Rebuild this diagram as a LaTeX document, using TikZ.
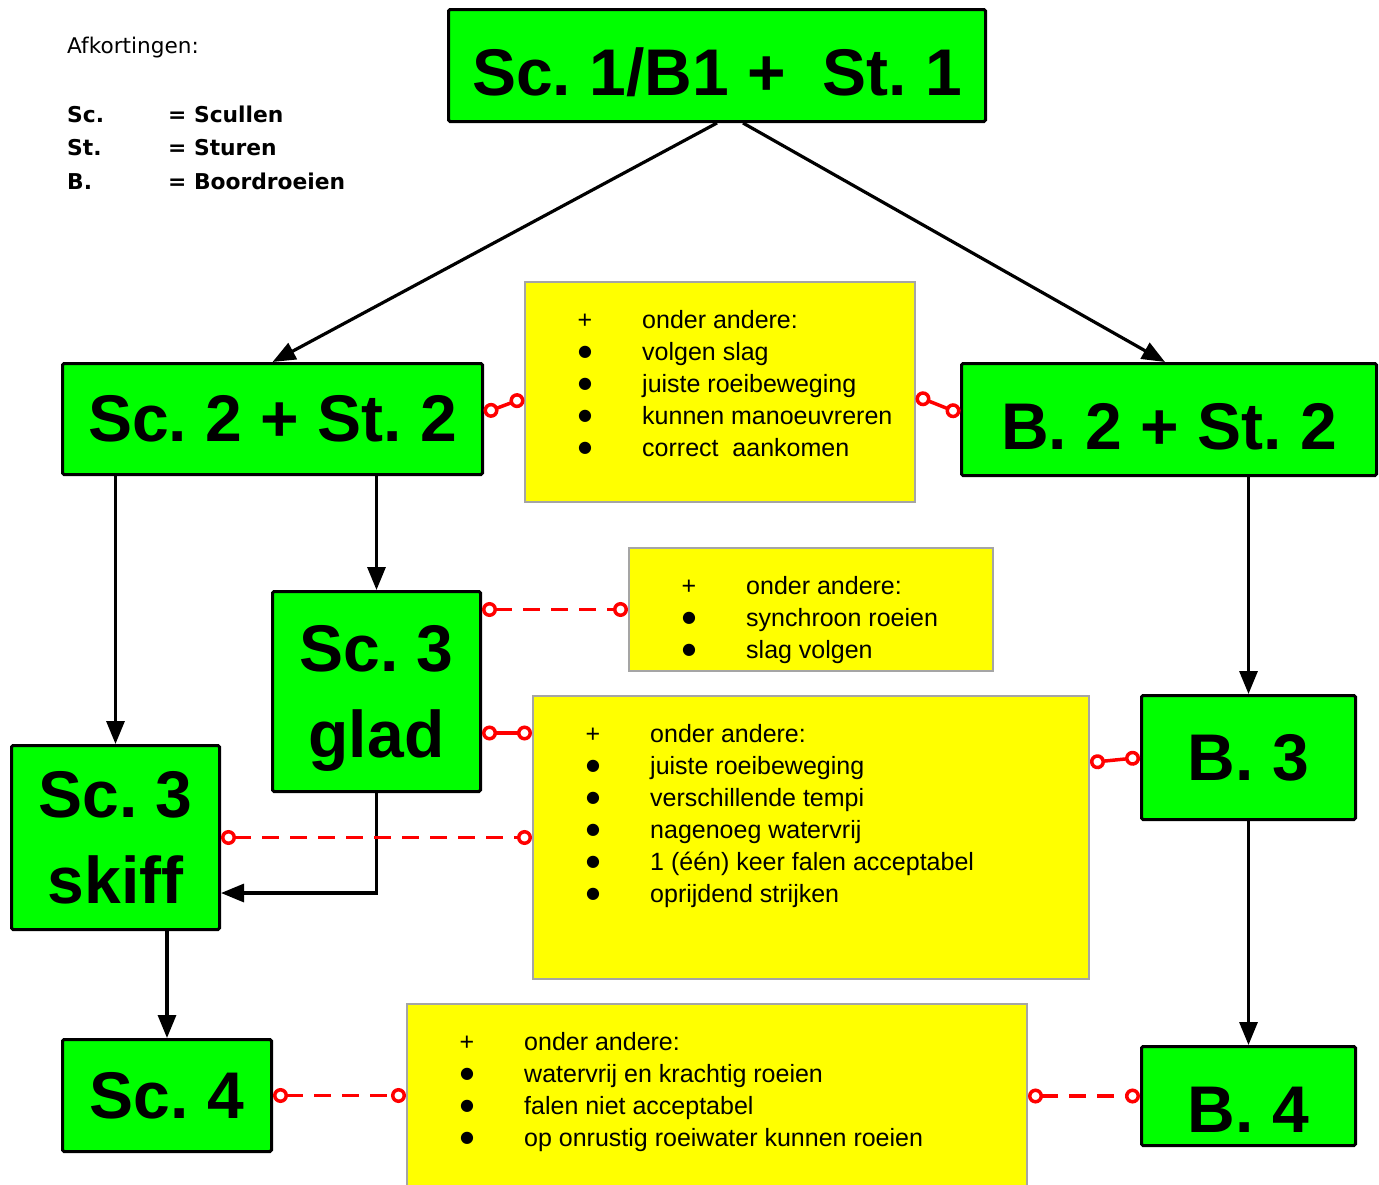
\documentclass[tikz,border=0pt]{standalone}
\usepackage{fontspec}
\setmainfont{Liberation Sans}
\newfontfamily\legendfont{DejaVu Sans}
\usetikzlibrary{arrows.meta,calc}
\frenchspacing

\definecolor{gradegreen}{RGB}{0,255,0}
\definecolor{noteyellow}{RGB}{255,255,0}
\definecolor{notegray}{RGB}{165,165,165}

\tikzset{
  grade/.style={draw=black, line width=3pt, fill=gradegreen, rounded corners=1.5pt,
    inner sep=0pt, align=center, font=\bfseries\fontsize{66}{86}\selectfont},
  note/.style={draw=notegray, line width=2pt, fill=noteyellow, inner sep=0pt},
  flow/.style={draw=black, line width=3.2pt, -{Triangle[length=23pt,width=18pt]}},
  link/.style={draw=red, line width=3.5pt,
    {Circle[open,fill=white,length=15pt]}-{Circle[open,fill=white,length=15pt]}},
  dashlink/.style={link, dash pattern=on 17pt off 11pt},
  listtxt/.style={anchor=base west, inner sep=0pt, font=\fontsize{25}{32}\selectfont},
  listmark/.style={anchor=base, inner sep=0pt, font=\fontsize{25}{32}\selectfont},
  legend/.style={anchor=base west, inner sep=0pt, font=\legendfont\bfseries\fontsize{21.8}{26}\selectfont}
}

% items of a yellow note: #1 = note name, #2 = lines
\newcommand{\noteitems}[2]{%
  \foreach \txt [count=\i] in {#2} {
    \ifnum\i=1 \def\bul{+}\else
      \def\bul{\raisebox{4pt}{\legendfont\fontsize{16}{18}\selectfont ●}}\fi
    \node[listmark] (#1-m\i) at ($(#1.north west)+(61,{47+32*(\i-1)})$) {\bul};
    \node[listtxt] (#1-t\i) at ($(#1.north west)+(118,{47+32*(\i-1)})$) {\txt};
  }
}

\begin{document}
\begin{tikzpicture}[x=1pt,y=-1pt]
\useasboundingbox (0,0) rectangle (1379,1184);

% legend
\node[anchor=base west, inner sep=0pt, font=\legendfont\fontsize{21.6}{24}\selectfont]
  (afk) at (67,53) {Afkortingen:};
\foreach \abbr/\full [count=\i] in {Sc./Scullen, St./Sturen, B./Boordroeien} {
  \node[legend] (abbr\i) at (67,{122+33.5*(\i-1)}) {\abbr};
  \node[legend] (full\i) at (168,{122+33.5*(\i-1)}) {= \full};
}

% levels
\node[grade, minimum width=537pt, minimum height=112pt, text height=60pt, text depth=0pt]
  (scone) at (717,65.5) {Sc. 1/B1 + \ St. 1};
\node[grade, minimum width=420pt, minimum height=111pt] (sctwo) at (272.5,419) {Sc. 2 + St. 2};
\node[grade, minimum width=415pt, minimum height=112pt, text height=60pt, text depth=0pt]
  (btwo) at (1169,419.5) {B. 2 + St. 2};
\node[grade, minimum width=208pt, minimum height=200pt, text depth=0pt]
  (glad) at (376.5,691.5) {Sc. 3\\glad};
\node[grade, minimum width=208pt, minimum height=184pt, text depth=0pt]
  (skiff) at (115.5,837.5) {Sc. 3\\skiff};
\node[grade, minimum width=209pt, minimum height=112pt] (scfour) at (167,1095.5) {Sc. 4};
\node[grade, minimum width=214pt, minimum height=124pt] (bthree) at (1248.5,757.5) {B. 3};
\node[grade, minimum width=214pt, minimum height=99pt, text height=73pt, text depth=0pt]
  (bfour) at (1248.5,1096) {B. 4};

% notes
\node[note, minimum width=390pt, minimum height=220pt] (yone) at (720,392) {};
\node[note, minimum width=364pt, minimum height=123pt] (ytwo) at (811,609.5) {};
\node[note, minimum width=556pt, minimum height=283pt] (ythree) at (811,837.5) {};
\node[note, minimum width=620pt, minimum height=185pt] (yfour) at (717,1096.5) {};

\noteitems{yone}{onder andere:, volgen slag, juiste roeibeweging,
  kunnen manoeuvreren, correct\ \ aankomen}
\noteitems{ytwo}{onder andere:, synchroon roeien, slag volgen}
\noteitems{ythree}{onder andere:, juiste roeibeweging, verschillende tempi,
  nagenoeg watervrij, 1 (één) keer falen acceptabel, oprijdend strijken}
\noteitems{yfour}{onder andere:, watervrij en krachtig roeien, falen niet acceptabel,
  op onrustig roeiwater kunnen roeien}

% flow between levels
\draw[flow] (scone.south) -- (sctwo.north);
\draw[flow] ([xshift=26pt]scone.south) -- ([xshift=-4pt]btwo.north);
\draw[flow] (skiff.north |- sctwo.south) -- (skiff.north);
\draw[flow] (glad.north |- sctwo.south) -- (glad.north);
\draw[flow] (glad.south) |- ($(skiff.east)+(0,55.5)$);
\draw[flow] (scfour.north |- skiff.south) -- (scfour.north);
\draw[flow] (bthree.north |- btwo.south) -- (bthree.north);
\draw[flow] (bthree.south) -- (bfour.north);

% links to the notes
\coordinate (gladlink) at ($(ythree.north west)+(0,38)$);
\draw[link] ([yshift=6pt]sctwo.east) -- ([yshift=-6pt]yone.west);
\draw[link] ([yshift=-4pt]yone.east) -- ([yshift=6pt]btwo.west);
\draw[dashlink] (glad.east |- ytwo.west) -- (ytwo.west);
\draw[link] (glad.east |- gladlink) -- (gladlink);
\draw[dashlink] (skiff.east |- ythree.west) -- (ythree.west);
\draw[link] ($(ythree.east |- bthree.west)+(0,5)$) -- (bthree.west);
\draw[dashlink] (scfour.east) -- (yfour.west |- scfour.east);
\draw[dashlink] (yfour.east |- bfour.west) -- (bfour.west);

\end{tikzpicture}
\end{document}
